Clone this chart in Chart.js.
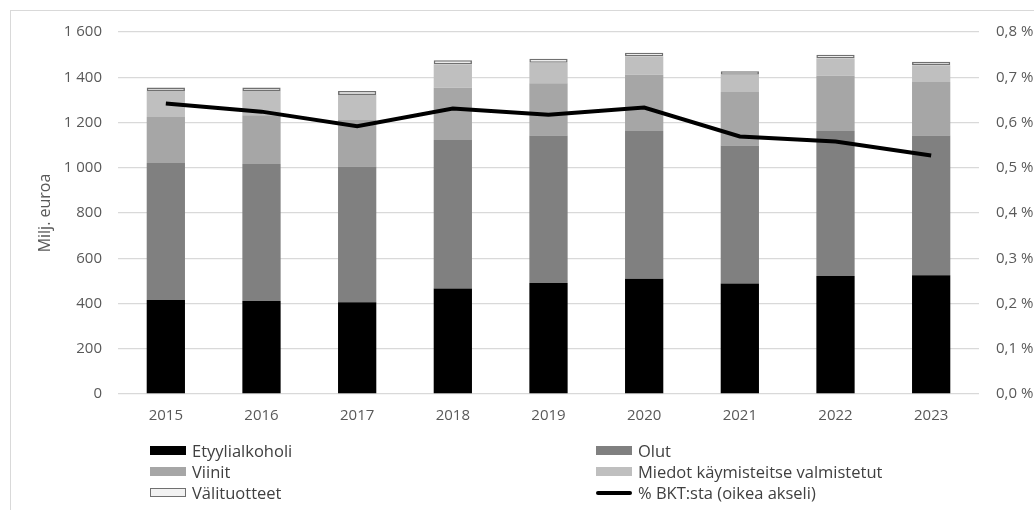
<!DOCTYPE html>
<html>
<head>
<meta charset="utf-8">
<script src="https://cdn.jsdelivr.net/npm/chart.js@4"></script>
<style>
  body { margin: 0; background: #fff; }
  #wrap { position: relative; width: 1034px; height: 510px; overflow: hidden; }
  #frame { position: absolute; left: 10px; top: 10px; width: 1100px; height: 600px; border: 1px solid #d9d9d9; }
  #chart { position: absolute; left: 0; top: 0; }
  #legend { position: absolute; left: 150px; top: 440px; width: 860px;
            display: grid; grid-template-columns: 446px 400px; grid-auto-rows: 21px;
            font-family: "Open Sans", sans-serif; font-size: 16.5px; color: #404040; }
  .item { display: flex; align-items: center; white-space: nowrap; }
  .sw { width: 36px; height: 9px; margin-right: 6px; box-sizing: border-box; }
</style>
</head>
<body>
<div id="wrap">
  <div id="frame"></div>
  <canvas id="chart" width="1034" height="510"></canvas>
  <div id="legend"></div>
</div>
<script>
const years = ['2015', '2016', '2017', '2018', '2019', '2020', '2021', '2022', '2023'];
const etyylialkoholi = [415, 411, 406, 466, 491, 509, 488, 521, 525];
const olut = [606, 606, 599, 657, 652, 653, 610, 641, 618];
const viinit = [203, 215, 206, 231, 231, 249, 237, 245, 236];
const miedot = [115, 107, 110, 103, 90, 81, 76, 76, 74];
const valituotteet = [16, 16, 18, 18, 18, 16, 15, 16, 15];
const bktOsuus = [0.642, 0.624, 0.592, 0.631, 0.617, 0.633, 0.569, 0.558, 0.527];

const leftTicks = [0, 200, 400, 600, 800, 1000, 1200, 1400, 1600];

function bar(label, data, color, extra) {
    return Object.assign({
        type: 'bar',
        label: label,
        data: data,
        backgroundColor: color,
        borderWidth: 0,
        yAxisID: 'y',
        order: 1,
        barPercentage: 0.4,
        categoryPercentage: 1
    }, extra || {});
}

const datasets = [
    bar('Etyylialkoholi', etyylialkoholi, '#000000'),
    bar('Olut', olut, '#808080'),
    bar('Viinit', viinit, '#a6a6a6'),
    bar('Miedot käymisteitse valmistetut', miedot, '#bfbfbf'),
    bar('Välituotteet', valituotteet, '#f2f2f2', { borderWidth: 1.5, borderColor: '#707070', borderSkipped: false }),
    {
        type: 'line',
        label: '% BKT:sta (oikea akseli)',
        data: bktOsuus,
        borderColor: '#000000',
        borderWidth: 4,
        pointRadius: 0,
        tension: 0,
        fill: false,
        yAxisID: 'y1',
        order: 0
    }
];

const tickFont = { family: 'Open Sans', size: 15 };

new Chart(document.getElementById('chart'), {
    data: { labels: years, datasets: datasets },
    options: {
        responsive: false,
        animation: false,
        layout: { padding: { top: 32, left: 0, right: 0, bottom: 0 } },
        plugins: { legend: { display: false }, tooltip: { enabled: false } },
        scales: {
            x: {
                stacked: true,
                grid: { display: false, drawTicks: false },
                border: { display: false },
                ticks: { color: '#595959', font: tickFont, padding: 13, maxRotation: 0 },
                afterFit: s => { s.height = 116; }
            },
            y: {
                stacked: true,
                position: 'left',
                min: 0,
                max: 1600,
                afterBuildTicks: s => { s.ticks = leftTicks.map(v => ({ value: v })); },
                grid: { color: '#d9d9d9', lineWidth: 1.3, drawTicks: false },
                border: { display: false },
                ticks: {
                    color: '#595959', font: tickFont, padding: 16,
                    callback: v => String(v).replace(/\B(?=(\d{3})+(?!\d))/g, ' ')
                },
                title: {
                    display: true, text: 'Milj. euroa', color: '#595959',
                    font: { family: 'Open Sans', size: 16 }, padding: { top: 36, bottom: 0 }
                },
                afterFit: s => { s.width = 118; }
            },
            y1: {
                position: 'right',
                min: 0,
                max: 0.8,
                ticks: {
                    stepSize: 0.1, color: '#595959', font: tickFont, padding: 17,
                    callback: v => v.toFixed(1).replace('.', ',') + ' %'
                },
                grid: { display: false, drawTicks: false },
                border: { display: false },
                afterFit: s => { s.width = 55; }
            }
        }
    }
});

// legend in two columns, in dataset order
const legend = document.getElementById('legend');
datasets.forEach(ds => {
    const item = document.createElement('div');
    item.className = 'item';
    const sw = document.createElement('span');
    sw.className = 'sw';
    if (ds.type === 'line') {
        sw.style.height = '4px';
        sw.style.borderRadius = '2px';
        sw.style.background = ds.borderColor;
    } else {
        sw.style.background = ds.backgroundColor;
        if (ds.borderWidth) sw.style.border = '1.5px solid ' + ds.borderColor;
    }
    const txt = document.createElement('span');
    txt.textContent = ds.label;
    item.appendChild(sw);
    item.appendChild(txt);
    legend.appendChild(item);
});
</script>
</body>
</html>
